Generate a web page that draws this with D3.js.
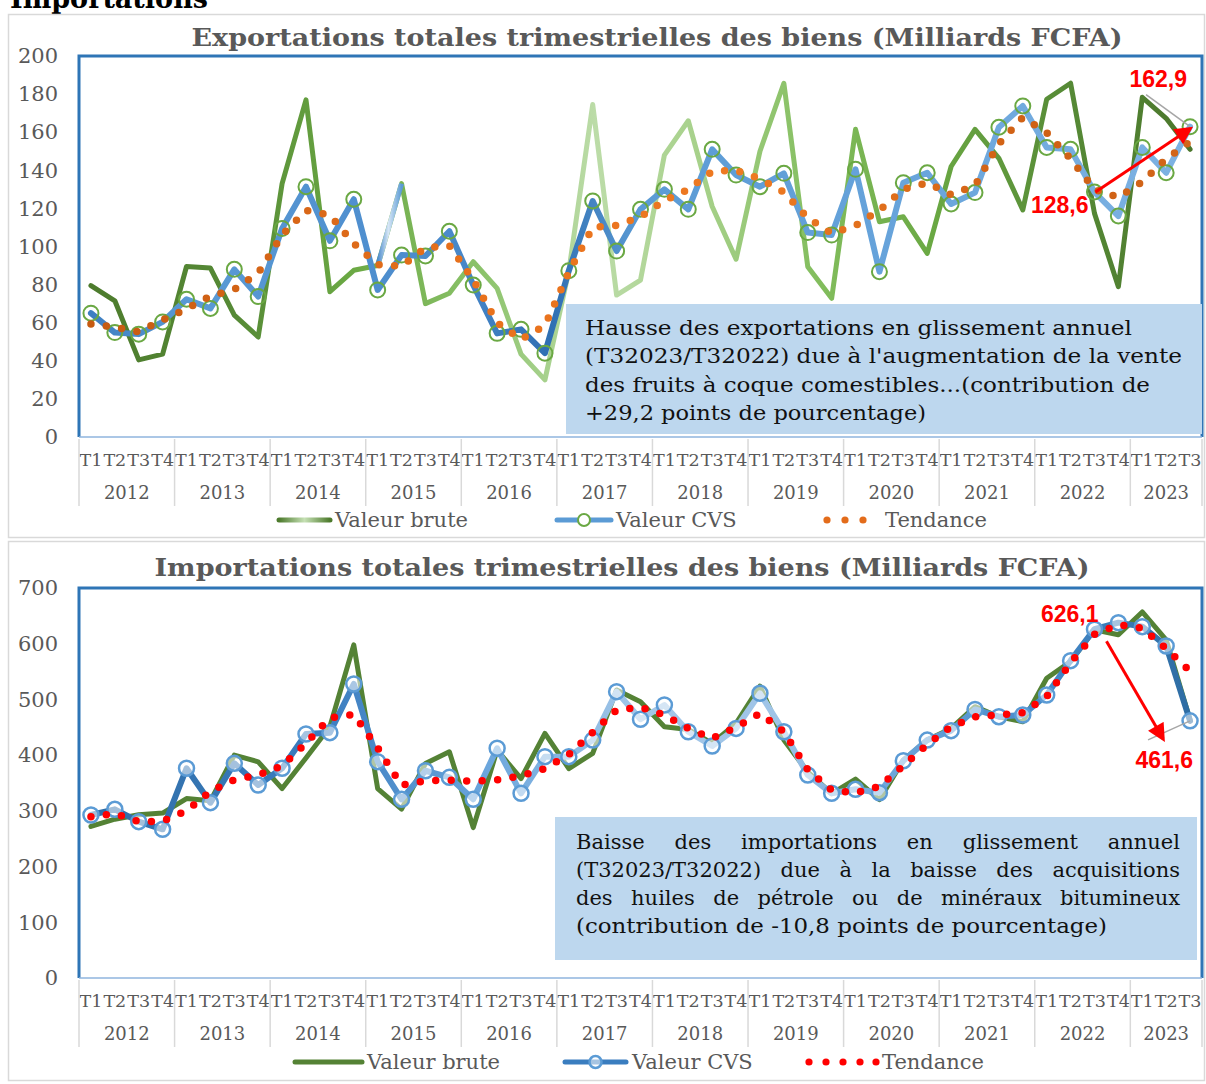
<!DOCTYPE html>
<html>
<head>
<meta charset="utf-8">
<script src="https://cdn.jsdelivr.net/npm/d3@7"></script>
<style>
  body { margin: 0; background: #fff; }
  svg { display: block; }
</style>
</head>
<body>
<div id="chart"></div>
<script>
// categories
const years = ["2012", "2013", "2014", "2015", "2016", "2017", "2018", "2019", "2020", "2021", "2022", "2023"];
const quartersPerYear = [4, 4, 4, 4, 4, 4, 4, 4, 4, 4, 4, 3];
const quarterNames = ["T1", "T2", "T3", "T4"];

// exportations (Milliards FCFA)
const exportBrute = [79.5, 71.5, 40.5, 43.5, 89.5, 88.7, 64, 52.5, 133, 177, 76.3, 87.5,
    90, 133, 70, 75.5, 92, 78, 43.5, 30, 87, 174.5, 74.5, 82.4,
    148, 166, 121, 93.3, 150, 185.7, 89.4, 72.8, 161.5, 113, 115.6, 96.4,
    142, 161.5, 146.3, 119.2, 177.3, 185.7, 117.4, 78.9, 178.3, 167.3, 151];
const exportCvs = [65, 54.8, 54, 60.4, 72.3, 67.5, 88, 73.7, 109.5, 131.4, 103, 124.8,
    77.2, 95.5, 95, 108, 79.8, 54.4, 56.5, 44, 87.3, 123.9, 97.6, 119.5,
    130, 119.5, 151, 137.5, 131.4, 138.4, 107.3, 106, 140.5, 86.8, 133.5, 138.7,
    122.3, 128.3, 162.6, 173.8, 152, 151, 128.6, 116, 152, 138.7, 162.9];
const exportTrend = [59.3, 57.6, 55.2, 61.4, 67.3, 74, 77.4, 86, 106, 119, 116.5, 101.6,
    90.5, 89.7, 99.3, 100.5, 82.5, 60, 51.2, 58.5, 86.5, 110, 111, 115.6,
    124, 130, 139.5, 140, 135.5, 128.5, 115, 106.9, 111, 119, 130, 133.4,
    127.2, 132, 154, 167.8, 159.8, 146, 130, 125.8, 134, 146, 155];
const exportYTicks = [0, 20, 40, 60, 80, 100, 120, 140, 160, 180, 200];

// importations (Milliards FCFA)
const importBrute = [272, 285, 293, 296, 322, 318, 400, 388, 340, 395, 451, 598,
    340, 303, 385, 406, 270, 409, 358, 439, 376, 403, 517, 496,
    451, 446, 421, 457, 524, 427, 370, 331, 357, 320, 391, 427,
    448, 487, 469, 460, 538, 568, 625, 616, 657, 607, 463];
const importCvs = [292.6, 302.8, 280.6, 266.9, 376.4, 314.7, 385.3, 346.4, 376.4, 438, 440.4, 527.7,
    388.3, 320.7, 372, 360.2, 320.7, 412.3, 331.5, 397.3, 397.3, 427, 514, 464.4,
    490, 442, 416.4, 448, 511, 442, 364.4, 331.5, 338.7, 332.6, 390, 427,
    444, 482, 469, 472, 508, 569.6, 626.1, 637.8, 630.6, 596, 461.6];
const importTrend = [289.6, 295, 280.5, 281.5, 300, 335, 356, 364, 381, 421, 467, 473,
    413, 346, 354, 355, 353, 355.5, 363, 376, 401, 441, 481, 486,
    472, 448, 430, 450, 475, 442, 374, 337, 332, 344, 381, 419,
    451, 469, 472, 476, 505, 566, 617, 634, 628, 591, 551];
const importYTicks = [0, 100, 200, 300, 400, 500, 600, 700];

// quarter labels built from years
var quarterLabels = [];
years.forEach(function(y, k) {
    for (var q = 0; q < quartersPerYear[k]; q++) quarterLabels.push(quarterNames[q]);
});

var width = 1206;
var height = 1084;
var serif = "'DejaVu Serif', serif";
var plotLeft = 79, plotRight = 1202;

const svg = d3.select("#chart")
    .append("svg")
    .attr("width", width)
    .attr("height", height);
const defs = svg.append("defs");

svg.append("rect").attr("width", width).attr("height", height).attr("fill", "#fff");

function addGradient(id, stops, x1, x2) {
    var g = defs.append("linearGradient")
        .attr("id", id)
        .attr("gradientUnits", "userSpaceOnUse")
        .attr("x1", x1 === undefined ? plotLeft : x1)
        .attr("x2", x2 === undefined ? plotRight : x2)
        .attr("y1", 0).attr("y2", 0);
    stops.forEach(function(s) {
        g.append("stop").attr("offset", s[0]).attr("stop-color", s[1]);
    });
}

addGradient("expBrute", [["0%", "#4c7a2c"], ["14%", "#568a36"], ["24%", "#6aa843"], ["36%", "#8cc36b"],
    ["46%", "#bcdca8"], ["56%", "#a5d088"], ["66%", "#82bd5d"], ["76%", "#6aa843"], ["88%", "#568a36"], ["100%", "#4a752b"]]);
addGradient("expCvs", [["0%", "#3a7bbf"], ["10%", "#5b9bd5"], ["25%", "#4f8fcf"], ["33%", "#4a8acb"],
    ["42%", "#2f6fb2"], ["50%", "#5b9bd5"], ["70%", "#65a2da"], ["100%", "#7fb3e3"]]);
addGradient("expTrend", [["0%", "#c55a11"], ["35%", "#e8711c"], ["60%", "#ee7a22"], ["85%", "#cf6014"], ["100%", "#d2661a"]]);
addGradient("impCvs", [["0%", "#2f6da6"], ["22%", "#3b7dbf"], ["36%", "#6aa5dc"], ["50%", "#a3c7e8"], ["62%", "#9fc4e7"],
    ["72%", "#6ea6da"], ["86%", "#4589c9"], ["100%", "#2c6aa0"]]);
addGradient("legBrute", [["0%", "#4c7a2c"], ["50%", "#c5e0b4"], ["100%", "#4c7a2c"]], 279, 330);

defs.append("marker")
    .attr("id", "arrowRed")
    .attr("viewBox", "0 0 10 10")
    .attr("refX", 8).attr("refY", 5)
    .attr("markerWidth", 6.5).attr("markerHeight", 6)
    .attr("markerUnits", "strokeWidth")
    .attr("orient", "auto")
    .append("path")
    .attr("d", "M0,0 L10,5 L0,10 z")
    .attr("fill", "#ff0000");

// heading cut at the top of the page
svg.append("text")
    .attr("x", 10).attr("y", 8)
    .attr("font-family", serif)
    .attr("font-weight", "bold")
    .attr("font-size", 28)
    .attr("textLength", 198)
    .attr("lengthAdjust", "spacingAndGlyphs")
    .attr("fill", "#000")
    .text("Importations");

function drawPanel(cfg) {
    var g = svg.append("g");

    // outer box
    g.append("rect")
        .attr("x", 8.5).attr("y", cfg.boxTop + 0.5)
        .attr("width", 1196).attr("height", cfg.boxBottom - cfg.boxTop)
        .attr("fill", "#fff")
        .attr("stroke", "#d9d9d9")
        .attr("stroke-width", 1.5);

    var xScale = d3.scaleBand()
        .domain(d3.range(quarterLabels.length))
        .range([plotLeft, plotRight])
        .paddingInner(0).paddingOuter(0);
    var bw = xScale.bandwidth();
    var xPos = function(i) { return xScale(i) + bw / 2; };

    var yScale = d3.scaleLinear()
        .domain([0, d3.max(cfg.yTicks)])
        .range([cfg.plotBottom, cfg.plotTop]);

    // title
    g.append("text")
        .attr("x", cfg.titleX).attr("y", cfg.titleY)
        .attr("text-anchor", "middle")
        .attr("font-family", serif)
        .attr("font-weight", "bold")
        .attr("font-size", 24)
        .attr("fill", "#595959")
        .attr("textLength", cfg.titleLen)
        .attr("lengthAdjust", "spacingAndGlyphs")
        .text(cfg.title);

    // y axis
    var yAxis = d3.axisLeft(yScale)
        .tickValues(cfg.yTicks)
        .tickSize(0)
        .tickPadding(21)
        .tickFormat(d3.format("d"));
    var ya = g.append("g")
        .attr("transform", "translate(" + plotLeft + ",0)")
        .call(yAxis);
    ya.select(".domain").remove();
    ya.selectAll("text")
        .attr("font-family", serif)
        .attr("font-size", 21)
        .attr("fill", "#595959");

    // plot frame
    g.append("path")
        .attr("d", "M" + plotLeft + "," + cfg.plotBottom + " V" + cfg.plotTop + " H" + plotRight + " V" + cfg.plotBottom)
        .attr("fill", "none")
        .attr("stroke", "#2e75b6")
        .attr("stroke-width", 3);
    g.append("line")
        .attr("x1", plotLeft).attr("x2", plotRight)
        .attr("y1", cfg.plotBottom).attr("y2", cfg.plotBottom)
        .attr("stroke", "#8fb4de")
        .attr("stroke-width", 1.5);

    // x axis : quarters then years
    g.selectAll(".qlab")
        .data(quarterLabels)
        .enter()
        .append("text")
        .attr("x", function(d, i) { return xPos(i); })
        .attr("y", cfg.plotBottom + 29)
        .attr("text-anchor", "middle")
        .attr("font-family", serif)
        .attr("font-size", 17)
        .attr("fill", "#595959")
        .attr("textLength", bw - 1)
        .attr("lengthAdjust", "spacingAndGlyphs")
        .text(function(d) { return d; });

    var start = 0;
    var bounds = [plotLeft];
    years.forEach(function(y, k) {
        var x0 = xScale(start);
        var x1 = xScale(start + quartersPerYear[k] - 1) + bw;
        g.append("text")
            .attr("x", (x0 + x1) / 2)
            .attr("y", cfg.plotBottom + 62)
            .attr("text-anchor", "middle")
            .attr("font-family", serif)
            .attr("font-size", 18)
            .attr("fill", "#595959")
            .text(y);
        bounds.push(x1);
        start += quartersPerYear[k];
    });
    g.selectAll(".sep")
        .data(bounds)
        .enter()
        .append("line")
        .attr("x1", function(d) { return d; })
        .attr("x2", function(d) { return d; })
        .attr("y1", cfg.plotBottom + 2)
        .attr("y2", cfg.plotBottom + 69)
        .attr("stroke", "#d9d9d9")
        .attr("stroke-width", 1.5);

    // text box
    g.append("rect")
        .attr("x", cfg.box.x).attr("y", cfg.box.y)
        .attr("width", cfg.box.w).attr("height", cfg.box.h)
        .attr("fill", "#bdd7ee");
    cfg.box.lines.forEach(function(l, k) {
        var t = g.append("text")
            .attr("x", cfg.box.tx)
            .attr("y", cfg.box.ty + k * cfg.box.lh)
            .attr("font-family", serif)
            .attr("font-size", 21)
            .attr("fill", "#111")
            .text(l[0]);
        if (l[2] === "justify") {
            // spread the words like a justified paragraph
            var natural = t.node().getComputedTextLength();
            var spaces = l[0].split(" ").length - 1;
            t.attr("word-spacing", ((l[1] - natural) / spaces).toFixed(2));
        } else if (l[1]) {
            t.attr("textLength", l[1]).attr("lengthAdjust", "spacingAndGlyphs");
        }
    });

    var line = d3.line()
        .x(function(d, i) { return xPos(i); })
        .y(function(d) { return yScale(d); });

    // valeur brute
    g.append("path")
        .attr("d", line(cfg.brute))
        .attr("fill", "none")
        .attr("stroke", cfg.bruteColor)
        .attr("stroke-width", 5)
        .attr("stroke-linejoin", "round")
        .attr("stroke-linecap", "round");

    // one segment of the raw series is painted blue in the original chart
    if (cfg.blueSegment !== undefined) {
        var s = cfg.blueSegment;
        addGradient("segBlue", [["0%", "#4a8acb"], ["45%", "#d6e6f5"], ["100%", "#5b9bd5"]], xPos(s), xPos(s + 1));
        g.append("path")
            .attr("d", d3.line()
                .x(function(d) { return xPos(d); })
                .y(function(d) { return yScale(cfg.brute[d]); })([s, s + 1]))
            .attr("fill", "none")
            .attr("stroke", "url(#segBlue)")
            .attr("stroke-width", 5)
            .attr("stroke-linecap", "butt");
    }

    // valeur CVS
    g.append("path")
        .attr("d", line(cfg.cvs))
        .attr("fill", "none")
        .attr("stroke", cfg.cvsColor)
        .attr("stroke-width", 6)
        .attr("stroke-linejoin", "round")
        .attr("stroke-linecap", "round");
    g.append("g")
        .selectAll("circle")
        .data(cfg.cvs)
        .enter()
        .append("circle")
        .attr("cx", function(d, i) { return xPos(i); })
        .attr("cy", function(d) { return yScale(d); })
        .attr("r", 7.5)
        .attr("fill", cfg.markerFill)
        .attr("stroke", cfg.markerStroke)
        .attr("stroke-width", cfg.markerWidth);

    // tendance
    g.append("path")
        .attr("d", line(cfg.trend))
        .attr("fill", "none")
        .attr("stroke", cfg.trendColor)
        .attr("stroke-width", 7.5)
        .attr("stroke-linecap", "round")
        .attr("stroke-dasharray", "0 15.5");

    // legend
    var ly = cfg.legendY;
    var L = cfg.legend;
    g.append("line")
        .attr("x1", L.b0).attr("x2", L.b1).attr("y1", ly).attr("y2", ly)
        .attr("stroke", cfg.legendBrute)
        .attr("stroke-width", 5).attr("stroke-linecap", "round");
    g.append("line")
        .attr("x1", L.c0).attr("x2", L.c1).attr("y1", ly).attr("y2", ly)
        .attr("stroke", cfg.legendCvs)
        .attr("stroke-width", 5).attr("stroke-linecap", "round");
    g.append("circle")
        .attr("cx", (L.c0 + L.c1) / 2).attr("cy", ly).attr("r", 6)
        .attr("fill", cfg.markerFill === "none" ? "#fff" : cfg.markerFill)
        .attr("stroke", cfg.markerStroke).attr("stroke-width", cfg.markerWidth);
    L.dots.forEach(function(x) {
        g.append("circle").attr("cx", x).attr("cy", ly).attr("r", 3.6).attr("fill", cfg.legendTrend);
    });
    [[L.bt, "Valeur brute"], [L.ct, "Valeur CVS"], [L.tt, "Tendance"]].forEach(function(d) {
        g.append("text")
            .attr("x", d[0]).attr("y", ly + 7)
            .attr("font-family", serif)
            .attr("font-size", 21)
            .attr("fill", "#595959")
            .text(d[1]);
    });

    return { x: xPos, y: yScale, g: g };
}

var exp = drawPanel({
    boxTop: 14, boxBottom: 537,
    plotTop: 56, plotBottom: 437,
    yTicks: exportYTicks,
    title: "Exportations totales trimestrielles des biens (Milliards FCFA)",
    titleX: 657, titleY: 46, titleLen: 931,
    brute: exportBrute, cvs: exportCvs, trend: exportTrend,
    bruteColor: "url(#expBrute)", cvsColor: "url(#expCvs)", trendColor: "url(#expTrend)",
    blueSegment: 12,
    markerFill: "none", markerStroke: "#6aa843", markerWidth: 2,
    box: { x: 566, y: 304, w: 636, h: 130, tx: 585, ty: 335, lh: 28.3,
        lines: [["Hausse des exportations en glissement annuel", 547],
                ["(T32023/T32022) due à l'augmentation de la vente", 597],
                ["des fruits à coque comestibles...(contribution de", 565],
                ["+29,2 points de pourcentage)", 341]] },
    legendY: 520,
    legend: { b0: 279, b1: 330, bt: 335, c0: 557, c1: 611, ct: 616, dots: [827, 845, 863], tt: 885 },
    legendBrute: "url(#legBrute)", legendCvs: "#5b9bd5", legendTrend: "#e36c1b"
});

var imp = drawPanel({
    boxTop: 541, boxBottom: 1080,
    plotTop: 588, plotBottom: 978,
    yTicks: importYTicks,
    title: "Importations totales trimestrielles des biens (Milliards FCFA)",
    titleX: 622, titleY: 576, titleLen: 935,
    brute: importBrute, cvs: importCvs, trend: importTrend,
    bruteColor: "#548235", cvsColor: "url(#impCvs)", trendColor: "#ff0000",
    markerFill: "rgba(255,255,255,0.55)", markerStroke: "#5b9bd5", markerWidth: 2.5,
    box: { x: 555, y: 817, w: 642, h: 143, tx: 576, ty: 849, lh: 28,
        lines: [["Baisse des importations en glissement annuel", 604, "justify"],
                ["(T32023/T32022) due à la baisse des acquisitions", 604, "justify"],
                ["des huiles de pétrole ou de minéraux bitumineux", 604, "justify"],
                ["(contribution de -10,8 points de pourcentage)", 531]] },
    legendY: 1062,
    legend: { b0: 295, b1: 362, bt: 367, c0: 565, c1: 626, ct: 632, dots: [809, 826, 843, 860, 876], tt: 882 },
    legendBrute: "#548235", legendCvs: "#3a7dbf", legendTrend: "#ff0000"
});

// annotations
function annotate(p, cfg) {
    var ax = p.x(cfg.from), ay = p.y(cfg.fromVal);
    var bx = p.x(cfg.to), by = p.y(cfg.toVal);
    // grey leader line to the end value
    p.g.append("line")
        .attr("x1", bx + cfg.leader[0]).attr("y1", by + cfg.leader[1])
        .attr("x2", bx).attr("y2", by)
        .attr("stroke", "#a6a6a6").attr("stroke-width", 1.5);
    p.g.append("line")
        .attr("x1", ax + cfg.arrowStart[0]).attr("y1", ay + cfg.arrowStart[1])
        .attr("x2", bx + cfg.arrowEnd[0]).attr("y2", by + cfg.arrowEnd[1])
        .attr("stroke", "#ff0000")
        .attr("stroke-width", 3)
        .attr("marker-end", "url(#arrowRed)");
    [[ax, ay, cfg.fromLabel, cfg.fromOff], [bx, by, cfg.toLabel, cfg.toOff]].forEach(function(d) {
        p.g.append("text")
            .attr("x", d[0] + d[3][0]).attr("y", d[1] + d[3][1])
            .attr("text-anchor", "end")
            .attr("font-family", "'Liberation Sans', Arial, sans-serif")
            .attr("font-weight", "bold")
            .attr("font-size", 23)
            .attr("fill", "#ff0000")
            .text(d[2]);
    });
}

annotate(exp, {
    from: 42, fromVal: exportCvs[42], to: 46, toVal: exportCvs[46],
    fromLabel: "128,6", toLabel: "162,9",
    fromOff: [-6, 21], toOff: [-3, -40],
    leader: [-44, -32], arrowStart: [1, 0], arrowEnd: [0, 2]
});
annotate(imp, {
    from: 42, fromVal: importCvs[42], to: 46, toVal: importCvs[46],
    fromLabel: "626,1", toLabel: "461,6",
    fromOff: [4, -7], toOff: [3, 47],
    leader: [-42, 19], arrowStart: [12, 12], arrowEnd: [-27, 18]
});
</script>
</body>
</html>
